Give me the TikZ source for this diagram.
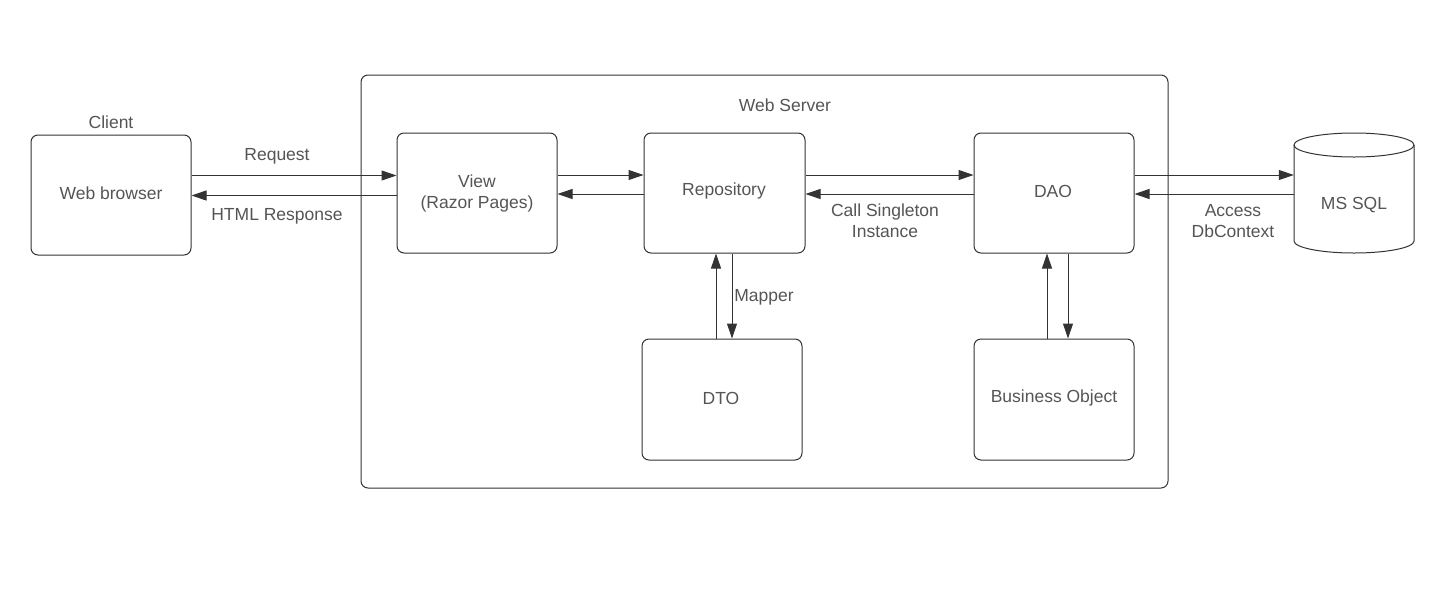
\documentclass[tikz,border=0pt]{standalone}
\usepackage{fontspec}
\setmainfont{Liberation Sans}
\usetikzlibrary{arrows.meta}
\definecolor{linec}{HTML}{333333}
\definecolor{textc}{HTML}{555555}
\begin{document}
\begin{tikzpicture}[x=1pt,y=-1pt,
  box/.style={draw=linec, line width=1pt, rounded corners=7pt, minimum width=160pt, minimum height=120pt, inner sep=0pt},
  ghost/.style={minimum width=120pt, minimum height=120pt, inner sep=0pt},
  lbl/.style={text=textc, font=\fontsize{17.5}{21}\selectfont, align=center, inner sep=0pt, yshift=-1pt},
  arr/.style={draw=linec, line width=1pt, -{Triangle[length=15pt,width=10pt]}}]
\useasboundingbox (0,0) rectangle (1446,603);
\fill[white] (0,0) rectangle (1446,603);
% web server frame
\node[draw=linec, line width=1pt, rounded corners=7pt, minimum width=807pt, minimum height=413pt, inner sep=0pt] (server) at (764.5,281.5) {};
\node[lbl] (serverlbl) at (785,104) {Web Server};
% boxes
\node[box] (browser) at (111,195) {};
\node[box] (view) at (477,193) {};
\node[box, minimum width=161pt] (repo) at (724.5,193) {};
\node[box] (dao) at (1054,193) {};
\node[box, minimum height=121pt] (dto) at (722,399.5) {};
\node[box, minimum height=121pt] (bo) at (1054,399.5) {};
\node[ghost] (sql) at (1354,193) {};
% cylinder
\draw[linec, line width=1pt] (1294,145) -- (1294,241) arc[start angle=180, end angle=0, x radius=60, y radius=12] -- (1414,145);
\draw[linec, line width=1pt] (1354,145) ellipse[x radius=60, y radius=12];
% texts
\node[lbl] (clientlbl) at (111,121) {Client};
\node[lbl] (browsertxt) at (111,192) {Web browser};
\node[lbl] (viewtxt) at (477,192) {View\\(Razor Pages)};
\node[lbl] (repotxt) at (724,190) {Repository};
\node[lbl] (daotxt) at (1053,190) {DAO};
\node[lbl] (dtotxt) at (721,397) {DTO};
\node[lbl] (botxt) at (1054,397) {Business Object};
\node[lbl] (sqltxt) at (1354,204) {MS SQL};
\node[lbl] (reqlbl) at (277,155) {Request};
\node[lbl] (resplbl) at (277,215) {HTML Response};
\node[lbl] (calllbl) at (885,220) {Call Singleton\\Instance};
\node[lbl] (acclbl) at (1233,220) {Access\\DbContext};
\node[lbl] (maplbl) at (764,296) {Mapper};
% arrows
\draw[arr] (browser.east |- 0,175.5) -- (view.west |- 0,175.5);
\draw[arr] (view.west |- 0,195.5) -- (browser.east |- 0,195.5);
\draw[arr] (view.east |- 0,175) -- (repo.west |- 0,175);
\draw[arr] (repo.west |- 0,194) -- (view.east |- 0,194);
\draw[arr] (repo.east |- 0,175) -- (dao.west |- 0,175);
\draw[arr] (dao.west |- 0,194) -- (repo.east |- 0,194);
\draw[arr] (dao.east |- 0,175) -- (sql.west |- 0,175);
\draw[arr] (sql.west |- 0,194) -- (dao.east |- 0,194);
\draw[arr] (dto.north -| 716,0) -- (repo.south -| 716,0);
\draw[arr] (repo.south -| 732,0) -- (dto.north -| 732,0);
\draw[arr] (bo.north -| 1047,0) -- (dao.south -| 1047,0);
\draw[arr] (dao.south -| 1068,0) -- (bo.north -| 1068,0);
\end{tikzpicture}
\end{document}
